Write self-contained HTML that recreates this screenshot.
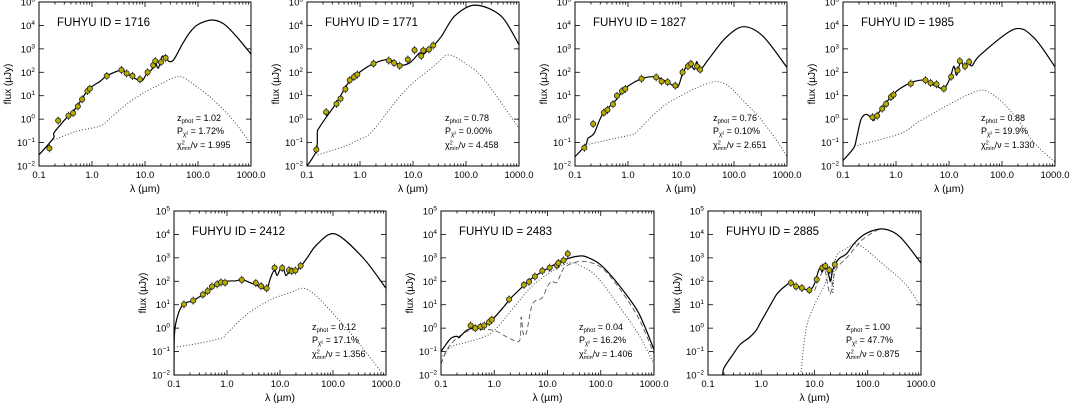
<!DOCTYPE html>
<html><head><meta charset="utf-8"><style>
html,body{margin:0;padding:0;background:#fff;}
svg{display:block;font-family:"Liberation Sans",sans-serif;}
</style></head><body>
<svg id="fig" width="1070" height="405" viewBox="0 0 1070 405" xmlns="http://www.w3.org/2000/svg"></svg>
<script>
// ---- data (wavelength in micron, flux in microJy) ----
const ids = ["1716","1771","1827","1985","2412","2483","2885"];
const zphot = ["1.02","0.78","0.76","0.88","0.12","0.04","1.00"];
const pchi = ["1.72%","0.00%","0.10%","19.9%","17.1%","16.2%","47.7%"];
const chinu = ["1.995","4.458","2.651","1.330","1.356","1.406","0.875"];
const xTickLabels = ["0.1","1.0","10.0","100.0","1000.0"];
const yTickExps = ["5","4","3","2","1","0","−1","−2"];

const pts1716_lam = [0.157,0.23,0.36,0.44,0.54,0.65,0.82,0.91,1.9,3.6,4.5,5.8,8.0,11.2,14.3,15.6,20,24.5];
const pts1716_flux = [0.057,0.87,1.4,1.8,3.5,7,15.8,20,70,125,90,70,50,100,200,300,270,410];
const model1716_lam = [0.1,0.186,0.19,0.25,0.36,0.5,0.85,1.4,1.9,3.6,4.5,5.8,8.6,10.7,13.4,15.4,17.8,21,24.5,28.7,35,50,70,100,180,300,500,1000];
const model1716_flux = [0.03,0.15,0.25,0.55,1.4,3,18,40,70,125,90,63,42,85,130,290,150,470,410,290,350,1500,5000,11000,17000,12000,4000,600];
const dot1716_lam = [0.19,0.5,1.4,2.2,4.5,9.3,19,34,50,83,190,460,950];
const dot1716_flux = [0.13,0.3,0.5,1.1,4.4,13,30,57,63,30,7,0.9,0.1];

const pts1771_lam = [0.15,0.23,0.36,0.43,0.53,0.64,0.77,0.89,1.8,3.5,4.4,5.6,8,10.7,14.3,15.6,20,24];
const pts1771_flux = [0.05,2,4.5,7.5,19,46,63,80,235,320,250,190,350,880,500,850,940,1400];
const model1771_lam = [0.1,0.15,0.157,0.166,0.23,0.36,0.6,0.92,1.8,3.5,5.9,8.6,10.7,13.4,15.4,21,24,35,62,150,460,1000];
const model1771_flux = [0.01,0.045,0.28,0.4,1.2,5,35,90,235,350,200,250,400,680,560,1100,1300,3600,26000,74000,25000,1500];
const dot1771_lam = [0.16,0.33,0.6,1,1.4,2.2,4.5,9.3,26,46,95,220,1000];
const dot1771_flux = [0.03,0.05,0.08,0.14,0.2,0.6,5,30,200,550,250,50,0.4];

const pts1827_lam = [0.15,0.22,0.35,0.41,0.52,0.62,0.77,0.89,1.8,3.4,4.3,5.6,7.8,10.7,13.5,15.4,20,23];
const pts1827_flux = [0.06,0.63,1.9,2.5,4.3,10,15.5,19.5,53,61,41,38,27,100,180,230,180,130];
const model1827_lam = [0.1,0.16,0.175,0.23,0.33,0.6,0.89,1.8,3.4,5.9,8.6,10.7,14.3,17.8,19.8,23,34,70,150,350,1000];
const model1827_flux = [0.025,0.08,0.15,0.25,1.6,6.7,21,53,63,35,23,88,250,130,290,130,390,3000,8800,3500,160];
const dot1827_lam = [0.16,0.5,1.2,1.5,2.5,5,10,20,45,80,150,300,600,1000];
const dot1827_flux = [0.08,0.14,0.22,0.3,1,4,10,22,40,25,6,1.2,0.15,0.025];

const pts1985_lam = [0.36,0.44,0.55,0.65,0.8,0.9,1.9,3.6,4.5,5.8,8,11,14.5,16,20,24];
const pts1985_flux = [1.2,1.4,2.8,4.5,8.7,11,33,46,35,31,20,65,120,300,180,280];
const model1985_lam = [0.1,0.16,0.18,0.22,0.28,0.38,0.42,0.9,1.8,3.4,4.8,6,8,10.6,12.3,14,16.6,20,23,27,39,170,400,1000];
const model1985_flux = [0.017,0.06,0.15,1.0,1.6,0.9,1.3,12,34,47,30,25,20,60,180,75,300,140,330,190,550,6900,3000,170];
const dot1985_lam = [0.165,1.2,2.5,7.6,23,46,95,200,400,1000];
const dot1985_flux = [0.07,0.24,0.7,3,11,17,6,0.9,0.1,0.015];

const pts2412_lam = [0.154,0.23,0.35,0.43,0.52,0.65,0.77,0.92,1.9,3.5,4.4,5.6,7.9,11,14.8,16.7,19.5,24.5];
const pts2412_flux = [10.4,15,27,38,60,75,90,88,115,85,62,50,380,370,300,270,290,460];
const model2412_lam = [0.1,0.102,0.12,0.154,0.23,0.35,0.77,1.5,1.9,3,4.5,5.6,6.7,7.9,8.9,11,12.8,14.8,19.5,24.5,32,50,110,370,1000];
const model2412_flux = [0.01,0.6,4,11,15,27,90,105,120,80,55,45,150,300,180,480,180,240,260,420,950,3700,10500,1000,50];
const dot2412_lam = [0.1,0.28,0.77,1.0,2.4,6.6,15,28,50,115,280,900];
const dot2412_flux = [0.15,0.22,0.37,0.6,4,16,32,50,22,3,0.3,0.01];

const pts2483_lam = [0.36,0.44,0.55,0.65,0.8,0.9,1.9,3.6,4.5,5.8,8,11,15,16,20,24];
const pts2483_flux = [1.3,1.0,1.15,1.3,1.8,2.3,17,70,95,160,280,380,470,600,780,1500];
const model2483_lam = [0.1,0.15,0.2,0.22,0.3,0.4,0.6,0.9,1.5,2,3,5,10,20,40,60,100,200,500,1000];
const model2483_flux = [0.1,0.35,0.45,0.4,0.8,1.0,1.2,2.2,8,18,45,130,350,800,1200,1000,500,90,5,0.12];
const dot2483_lam = [0.1,0.15,0.3,0.6,1,2,5,10,20,30,60,100,200,500,1000];
const dot2483_flux = [0.05,0.15,0.25,0.4,0.8,5,60,200,500,600,300,100,12,0.6,0.03];
const dash2483_lam = [0.1,0.15,0.3,0.5,1.0,2,3,3.2,3.5,4,5,6,8,10,12,15,20,30,50,100,200,500,1000];
const dash2483_flux = [0.03,0.2,0.7,0.85,0.8,0.35,0.3,3,0.6,0.6,8,15,20,60,100,90,350,600,700,400,70,3,0.08];

const pts2885_lam = [3.6,4.5,5.8,8,11,14,16,19,24];
const pts2885_flux = [85,60,52,42,120,380,450,300,520];
const model2885_lam = [0.19,0.2,0.3,0.4,0.6,0.8,1,1.5,2,3,3.6,5,8,10,12,13,14,15,17,19,20,22,25,30,40,60,100,200,400,1000];
const model2885_flux = [0.01,0.02,0.08,0.2,0.4,0.8,2,10,30,70,85,60,42,80,300,350,250,400,350,150,100,300,600,1000,1500,5000,12000,17000,8000,600];
const dot2885_lam = [5.5,7,10,15,20,22,25,40,60,100,200,500,1000];
const dot2885_flux = [0.01,1,10,60,300,30,1000,2500,4000,2000,500,80,8];
const dash2885_lam = [10,15,18,20,25,40,80,150,200];
const dash2885_flux = [40,300,60,30,300,1000,6000,15000,17000];

const panels = [
 {x:39,y:2,w:212,h:164,id:0,pl:pts1716_lam,pf:pts1716_flux,ml:model1716_lam,mf:model1716_flux,dl:dot1716_lam,df:dot1716_flux},
 {x:307,y:2,w:212,h:164,id:1,pl:pts1771_lam,pf:pts1771_flux,ml:model1771_lam,mf:model1771_flux,dl:dot1771_lam,df:dot1771_flux},
 {x:575,y:2,w:212,h:164,id:2,pl:pts1827_lam,pf:pts1827_flux,ml:model1827_lam,mf:model1827_flux,dl:dot1827_lam,df:dot1827_flux},
 {x:843,y:2,w:212,h:164,id:3,pl:pts1985_lam,pf:pts1985_flux,ml:model1985_lam,mf:model1985_flux,dl:dot1985_lam,df:dot1985_flux},
 {x:174,y:211,w:212,h:164,id:4,pl:pts2412_lam,pf:pts2412_flux,ml:model2412_lam,mf:model2412_flux,dl:dot2412_lam,df:dot2412_flux},
 {x:441,y:211,w:213,h:164,id:5,pl:pts2483_lam,pf:pts2483_flux,ml:model2483_lam,mf:model2483_flux,dl:dot2483_lam,df:dot2483_flux,al:dash2483_lam,af:dash2483_flux},
 {x:708,y:211,w:213,h:164,id:6,pl:pts2885_lam,pf:pts2885_flux,ml:model2885_lam,mf:model2885_flux,dl:dot2885_lam,df:dot2885_flux,al:dash2885_lam,af:dash2885_flux}
];

const NS = "http://www.w3.org/2000/svg";
const svg = document.getElementById("fig");
function mk(tag, attrs, parent){
  const e = document.createElementNS(NS, tag);
  for (const k in attrs) e.setAttribute(k, attrs[k]);
  parent.appendChild(e);
  return e;
}
function smoothPath(P){
  let d = "M" + P[0][0].toFixed(1) + " " + P[0][1].toFixed(1);
  for (let i = 0; i < P.length - 1; i++) {
    const p0 = P[i - 1] || P[i], p1 = P[i], p2 = P[i + 1], p3 = P[i + 2] || P[i + 1];
    const t = 0.16;
    const c1 = [p1[0] + (p2[0] - p0[0]) * t, p1[1] + (p2[1] - p0[1]) * t];
    const c2 = [p2[0] - (p3[0] - p1[0]) * t, p2[1] - (p3[1] - p1[1]) * t];
    d += "C" + c1[0].toFixed(1) + " " + c1[1].toFixed(1) + " " + c2[0].toFixed(1) + " " + c2[1].toFixed(1) + " " + p2[0].toFixed(1) + " " + p2[1].toFixed(1);
  }
  return d;
}
const defs = mk("defs", {}, svg);

panels.forEach((p, pi) => {
  const xs = l => p.x + (Math.log10(l) + 1) / 4 * p.w;
  const ys = f => p.y + (5 - Math.log10(f)) / 7 * p.h;
  const g = mk("g", {}, svg);
  
  
  const cp = mk("clipPath", {id: "cp" + pi}, defs);
  mk("rect", {x: p.x, y: p.y, width: p.w, height: p.h}, cp);

  const tk = mk("g", {stroke: "#000", "stroke-width": 0.8}, g);
  
  
  for (let d = -1; d <= 3; d++) {
    for (let m = 1; m <= 9; m++) {
      const l = m * Math.pow(10, d);
      if (l > 1000) break;
      const X = xs(l), L = m === 1 ? 5 : 2.5;
      mk("line", {x1: X, y1: p.y + p.h, x2: X, y2: p.y + p.h - L}, tk);
      mk("line", {x1: X, y1: p.y, x2: X, y2: p.y + L}, tk);
    }
  }
  for (let d = -2; d <= 5; d++) {
    const Y = ys(Math.pow(10, d));
    mk("line", {x1: p.x, y1: Y, x2: p.x + 5, y2: Y}, tk);
    mk("line", {x1: p.x + p.w, y1: Y, x2: p.x + p.w - 5, y2: Y}, tk);
  }

  const line = (ls, fs, attrs, name) => {
    const P = ls.map((l, i) => [xs(l), ys(fs[i])]);
    const e = mk("path", Object.assign({d: smoothPath(P), fill: "none", "clip-path": "url(#cp" + pi + ")"}, attrs), g);
    
    
  };
  line(p.dl, p.df, {stroke: "#333", "stroke-width": 0.9, "stroke-dasharray": "1 2"}, 'dust-component-dotted');
  if (p.al) line(p.al, p.af, {stroke: "#444", "stroke-width": 0.8, "stroke-dasharray": "5 3"}, 'alt-model-dashed');
  line(p.ml, p.mf, {stroke: "#000", "stroke-width": 1.2}, 'best-fit-model');

  p.pl.forEach((l, i) => {
    const X = xs(l), Y = ys(p.pf[i]);
    const eb = mk("line", {x1: X, y1: Y - 4, x2: X, y2: Y + 4, stroke: "#000", "stroke-width": 0.8}, g);
    
    
    const c = mk("circle", {cx: X, cy: Y, r: 2.6, fill: "#b5ad00", stroke: "#222", "stroke-width": 0.8}, g);
    
    
  });

  const fr = mk("rect", {x: p.x, y: p.y, width: p.w, height: p.h, fill: "none", stroke: "#000", "stroke-width": 1}, g);
  
  

  xTickLabels.forEach((t, i) => {
    const e = mk("text", {x: p.x + i * p.w / 4, y: p.y + p.h + 12, "text-anchor": "middle", "font-size": 9.5}, g);
    e.textContent = t;
    
    
  });
  yTickExps.forEach((t, i) => {
    const e = mk("text", {x: p.x - 4, y: p.y + i * p.h / 7 + 3.5, "text-anchor": "end", "font-size": 9.5}, g);
    
    
    e.appendChild(document.createTextNode("10"));
    const s = mk("tspan", {dy: -4, "font-size": 6.5}, e);
    s.textContent = t;
  });
  const xt = mk("text", {x: p.x + p.w / 2, y: p.y + p.h + 26, "text-anchor": "middle", "font-size": 10.5}, g);
  xt.textContent = "λ (µm)";
  
  
  const yt = mk("text", {x: 0, y: 0, "text-anchor": "middle", "font-size": 10, transform: "translate(" + (p.x - 28) + "," + (p.y + p.h / 2) + ") rotate(-90)"}, g);
  yt.textContent = "flux (µJy)";
  
  

  const ti = mk("text", {x: p.x + 18, y: p.y + 24, "font-size": 11.5}, g);
  ti.textContent = "FUHYU ID = " + ids[p.id];
  
  

  const ax = p.x + 138;
  const a1 = mk("text", {x: ax, y: p.y + 119, "font-size": 9}, g);
  
  
  a1.appendChild(document.createTextNode("z"));
  let s = mk("tspan", {dy: 2, "font-size": 6}, a1); s.textContent = "phot";
  s = mk("tspan", {dy: -2}, a1); s.textContent = " = " + zphot[p.id];
  const a2 = mk("text", {x: ax, y: p.y + 132, "font-size": 9}, g);
  
  
  a2.appendChild(document.createTextNode("P"));
  s = mk("tspan", {dy: 2, "font-size": 6}, a2); s.textContent = "χ²";
  s = mk("tspan", {dy: -2}, a2); s.textContent = " = " + pchi[p.id];
  const a3 = mk("text", {x: ax, y: p.y + 146, "font-size": 9}, g);
  
  
  a3.appendChild(document.createTextNode("χ"));
  s = mk("tspan", {dy: -3.5, "font-size": 5.5}, a3); s.textContent = "2";
  s = mk("tspan", {dy: 5.5, dx: -3, "font-size": 5.5}, a3); s.textContent = "min";
  s = mk("tspan", {dy: -2}, a3); s.textContent = "/ν = " + chinu[p.id];
});
</script>
</body></html>
